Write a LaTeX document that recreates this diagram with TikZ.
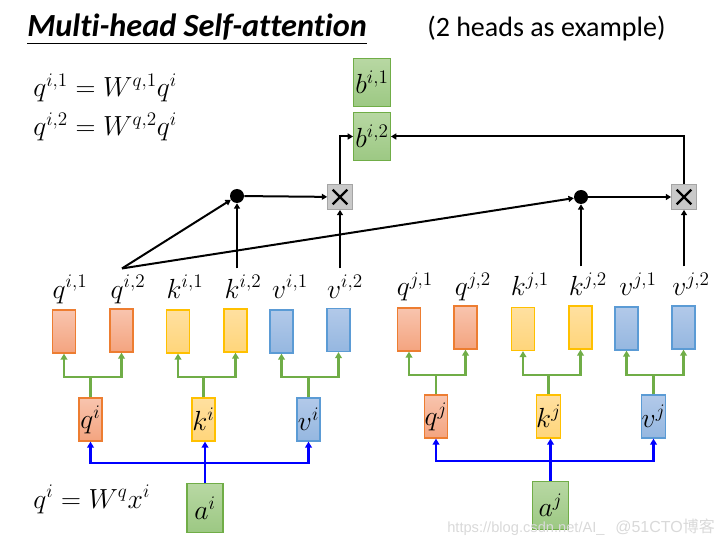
\documentclass[tikz,border=0pt]{standalone}
\usepackage{fontspec}
\setmainfont[Ligatures=NoCommon]{Carlito}
\newfontfamily\wmfont{Liberation Sans}
\newfontfamily\cjk{Noto Sans CJK SC}
\DeclareMathSizes{20}{20}{15.5}{12}
\usetikzlibrary{arrows.meta,calc}
\definecolor{oB}{HTML}{ED7D31}\definecolor{oT}{HTML}{F8C4AE}\definecolor{oD}{HTML}{F4A47F}
\definecolor{yB}{HTML}{FFC000}\definecolor{yT}{HTML}{FFE0A0}\definecolor{yD}{HTML}{FFD57A}
\definecolor{uB}{HTML}{5B9BD5}\definecolor{uT}{HTML}{B2C9E9}\definecolor{uD}{HTML}{95B7E0}
\definecolor{gB}{HTML}{70AD47}\definecolor{gT}{HTML}{B8D8A3}\definecolor{gD}{HTML}{9CC883}
\definecolor{xF}{HTML}{C9C9C9}\definecolor{xB}{HTML}{A5A5A5}
\definecolor{blueline}{HTML}{0000FF}
\begin{document}
\begin{tikzpicture}[x=0.75pt,y=-0.75pt,
  cell/.style={line width=0.9pt, minimum width=17.25pt, minimum height=32.25pt, inner sep=0pt, font=\fontsize{20}{22}\selectfont},
  obox/.style={cell, draw=oB, top color=oT, bottom color=oD},
  ybox/.style={cell, draw=yB, top color=yT, bottom color=yD},
  ubox/.style={cell, draw=uB, top color=uT, bottom color=uD},
  gbox/.style={cell, draw=gB, top color=gT, bottom color=gD, minimum width=27.5pt, minimum height=36.5pt},
  lab/.style={font=\fontsize{20}{22}\selectfont, inner sep=5pt, anchor=base},
  eqn/.style={font=\fontsize{20}{22}\selectfont, inner sep=0pt, anchor=base west},
  blk/.style={line width=1.5pt, -{Triangle[length=4pt,width=4.5pt]}},
  grn/.style={draw=gB, line width=2pt},
  grna/.style={grn, -{Triangle[length=4.5pt,width=5pt]}},
  blu/.style={draw=blueline, line width=2.2pt},
  blua/.style={blu, -{Triangle[length=4.5pt,width=5pt]}},
  dotn/.style={circle, fill=black, minimum size=10.5pt, inner sep=0pt},
  xbox/.style={draw=xB, fill=xF, line width=0.8pt, minimum size=18.5pt, inner sep=0pt,
    path picture={\draw[draw=black, line width=1.8pt]
      ($(path picture bounding box.south west)+(3.8pt,3.8pt)$) -- ($(path picture bounding box.north east)+(-3.8pt,-3.8pt)$)
      ($(path picture bounding box.north west)+(3.8pt,-3.8pt)$) -- ($(path picture bounding box.south east)+(-3.8pt,3.8pt)$);}}
]
\useasboundingbox (0,0) rectangle (724,545);

% title
\node[anchor=base west, inner sep=0pt, font=\fontsize{24.2}{27}\selectfont\bfseries\itshape] (title) at (27,37) {Multi-head Self-attention};
\draw[line width=1pt] ($(title.base west)+(0,6.5)$) -- ($(title.base east)+(0,6.5)$);
\node[anchor=base west, inner sep=0pt, font=\fontsize{21}{24}\selectfont] (sub) at (427,37) {(2 heads as example)};

% equations
\node[eqn] (eq1) at (33,97) {$q^{i,1} = W^{q,1} q^{i}$};
\node[eqn] (eq2) at (33,136) {$q^{i,2} = W^{q,2} q^{i}$};
\node[eqn] (eq3) at (33,508) {$q^{i} = W^{q} x^{i}$};

% output boxes
\node[gbox] (bi1) at (372,82.5) {$b^{i,1}$};
\node[gbox] (bi2) at (372,136.5) {$b^{i,2}$};

% dots and product boxes
\node[dotn] (dot1) at (237,196) {};
\node[xbox] (x1) at (340,197) {};
\node[dotn] (dot2) at (581,197) {};
\node[xbox] (x2) at (684,197) {};

% row i labels
\node[lab] (qi1l) at (70,298) {$q^{i,1}$};
\node[lab] (qi2l) at (128,298) {$q^{i,2}$};
\node[lab] (ki1l) at (185,298) {$k^{i,1}$};
\node[lab] (ki2l) at (243,298) {$k^{i,2}$};
\node[lab] (vi1l) at (290,298) {$v^{i,1}$};
\node[lab] (vi2l) at (345,298) {$v^{i,2}$};
% row j labels
\node[lab] (qj1l) at (415,296) {$q^{j,1}$};
\node[lab] (qj2l) at (473,296) {$q^{j,2}$};
\node[lab] (kj1l) at (530,296) {$k^{j,1}$};
\node[lab] (kj2l) at (588,296) {$k^{j,2}$};
\node[lab] (vj1l) at (638,296) {$v^{j,1}$};
\node[lab] (vj2l) at (691,296) {$v^{j,2}$};

% row i head boxes
\node[obox] (qi1) at (64,331.5) {};
\node[obox] (qi2) at (121.5,330.5) {};
\node[ybox] (ki1) at (178,331.5) {};
\node[ybox] (ki2) at (235.5,330.5) {};
\node[ubox] (vi1) at (281.5,331.5) {};
\node[ubox] (vi2) at (338.5,330) {};
% row j head boxes
\node[obox] (qj1) at (409,329.5) {};
\node[obox] (qj2) at (465.5,327.5) {};
\node[ybox] (kj1) at (523,329) {};
\node[ybox] (kj2) at (580.5,327.5) {};
\node[ubox] (vj1) at (626.5,328.5) {};
\node[ubox] (vj2) at (683.5,327.5) {};

% q k v boxes
\node[obox] (qi) at (90.5,419.5) {$q^{i}$};
\node[ybox] (ki) at (203.5,419.5) {$k^{i}$};
\node[ubox] (vi) at (308.5,419.5) {$v^{i}$};
\node[obox] (qj) at (436,416.5) {$q^{j}$};
\node[ybox] (kj) at (548.5,416.5) {$k^{j}$};
\node[ubox] (vj) at (653.5,416.5) {$v^{j}$};

% inputs
\node[gbox, minimum width=27pt] (ai) at (205,508) {$a^{i}$};
\node[gbox] (aj) at (550.5,505.5) {$a^{j}$};

% bar levels
\coordinate (gbari) at (0,377);
\coordinate (gbarj) at (0,375);
\coordinate (bbari) at (0,463);
\coordinate (bbarj) at (0,461);

% green splits
\foreach \p/\c/\d/\bar in {qi/qi1/qi2/gbari, ki/ki1/ki2/gbari, vi/vi1/vi2/gbari,
                            qj/qj1/qj2/gbarj, kj/kj1/kj2/gbarj, vj/vj1/vj2/gbarj}{
  \draw[grna] (\p.north) -- (\p.north |- \bar) -| (\c.south);
  \draw[grna] (\p.north |- \bar) -| (\d.south);
}

% blue inputs
\draw[blua] (ai.north) -- (ai.north |- ki.south);
\draw[blua] (ai.north |- bbari) -| (qi.south);
\draw[blua] (ai.north |- bbari) -| (vi.south);
\draw[blua] (aj.north) -- (aj.north |- kj.south);
\draw[blua] (aj.north |- bbarj) -| (qj.south);
\draw[blua] (aj.north |- bbarj) -| (vj.south);

% attention connectors
\coordinate (src) at ($(qi2l.north)+(-6,0)$);
\draw[blk] (src) -- (dot1);
\draw[blk] (src) -- (dot2);
\draw[blk] (dot1 |- ki2l.north) -- (dot1);
\draw[blk] (x1 |- vi2l.north) -- (x1);
\draw[blk] (dot1) -- (x1);
\draw[blk] (x1.north) |- (bi2.west);
\draw[blk] (dot2 |- kj2l.north) -- (dot2);
\draw[blk] (x2 |- vj2l.north) -- (x2);
\draw[blk] (dot2) -- (x2);
\draw[blk] (x2.north) |- (bi2.east);

% watermark
\node[anchor=base west, inner sep=0pt, text=gray!30, font=\wmfont\fontsize{11}{12}\selectfont] (wm1) at (447,532) {https://blog.csdn.net/AI\_};
\node[anchor=base west, inner sep=0pt, text=gray!30, font=\wmfont\fontsize{12}{12}\selectfont] (wm2) at (615,532) {@51CTO{\cjk 博客}};
\end{tikzpicture}
\end{document}
